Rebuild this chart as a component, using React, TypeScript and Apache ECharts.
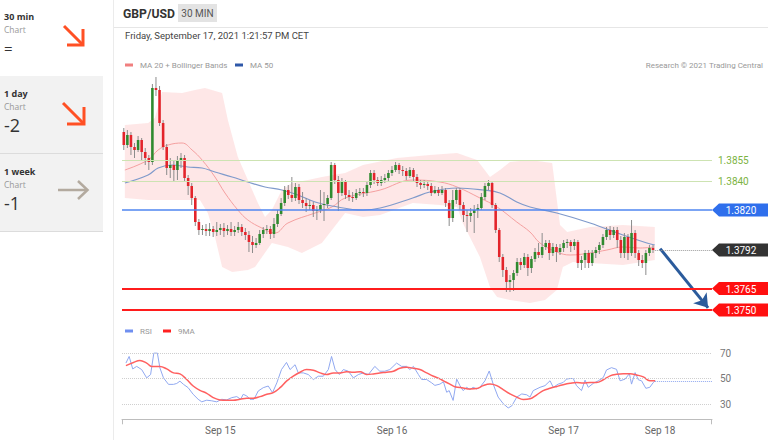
import React, { useEffect, useRef } from "react";
import * as echarts from "echarts";

// ---------- DATA ----------
const firstOpen = 1.38746;
const closes = [
  1.38655,1.38725,1.38641,1.38620,1.38690,1.38606,1.38564,1.38536,1.39054,1.39040,
  1.38809,1.38641,1.38494,1.38515,1.38480,1.38550,1.38564,1.38424,1.38368,1.38284,
  1.38116,1.38060,1.38067,1.38053,1.38067,1.38046,1.38060,1.38074,1.38053,1.38067,
  1.38046,1.38060,1.38081,1.38046,1.38025,1.37976,1.37955,1.37969,1.38032,1.38060,
  1.38067,1.38032,1.38102,1.38172,1.38249,1.38340,1.38305,1.38284,1.38361,1.38270,
  1.38249,1.38228,1.38235,1.38193,1.38200,1.38235,1.38242,1.38284,1.38515,1.38410,
  1.38319,1.38396,1.38305,1.38291,1.38284,1.38319,1.38326,1.38319,1.38375,1.38459,
  1.38410,1.38389,1.38410,1.38424,1.38459,1.38480,1.38515,1.38480,1.38473,1.38438,
  1.38480,1.38431,1.38389,1.38375,1.38382,1.38368,1.38319,1.38340,1.38319,1.38340,
  1.38249,1.38144,1.38270,1.38340,1.38235,1.38165,1.38158,1.38179,1.38200,1.38214,
  1.38291,1.38368,1.38389,1.38235,1.38060,1.37871,1.37780,1.37696,1.37710,1.37759,
  1.37836,1.37815,1.37871,1.37794,1.37857,1.37906,1.37885,1.37941,1.37969,1.37899,
  1.37941,1.37906,1.37934,1.37969,1.37976,1.37948,1.37976,1.37829,1.37850,1.37899,
  1.37829,1.37899,1.37920,1.37955,1.38011,1.38060,1.38025,1.38060,1.37990,1.37899,
  1.38011,1.37899,1.38039,1.37899,1.37850,1.37829,1.37899,1.37934,1.37920,
];
const highs = [
  1.38774,1.38760,1.38746,1.38669,1.38718,1.38704,1.38634,1.38585,1.39082,1.39131,
  1.39068,1.38830,1.38662,1.38564,1.38550,1.38578,1.38599,1.38585,1.38445,1.38389,
  1.38298,1.38137,1.38095,1.38102,1.38109,1.38088,1.38116,1.38102,1.38109,1.38095,
  1.38116,1.38088,1.38116,1.38102,1.38074,1.38053,1.38018,1.38004,1.38060,1.38081,
  1.38095,1.38088,1.38144,1.38200,1.38284,1.38368,1.38375,1.38431,1.38389,1.38382,
  1.38326,1.38284,1.38270,1.38256,1.38228,1.38340,1.38326,1.38305,1.38536,1.38529,
  1.38438,1.38424,1.38410,1.38340,1.38326,1.38347,1.38354,1.38354,1.38403,1.38480,
  1.38480,1.38431,1.38438,1.38452,1.38480,1.38508,1.38536,1.38529,1.38508,1.38494,
  1.38501,1.38494,1.38452,1.38410,1.38410,1.38403,1.38389,1.38368,1.38361,1.38368,
  1.38354,1.38270,1.38340,1.38354,1.38354,1.38256,1.38200,1.38214,1.38235,1.38242,
  1.38319,1.38389,1.38410,1.38403,1.38249,1.38074,1.37892,1.37801,1.37745,1.37780,
  1.37864,1.37864,1.37899,1.37892,1.37878,1.37934,1.37969,1.38039,1.37990,1.37990,
  1.37969,1.37962,1.37962,1.37990,1.37997,1.37990,1.37997,1.37990,1.37878,1.37920,
  1.37920,1.37920,1.37941,1.37976,1.38032,1.38081,1.38088,1.38081,1.38081,1.38018,
  1.38039,1.38032,1.38130,1.38060,1.37920,1.37885,1.37920,1.37955,1.37955,
];
const lows = [
  1.38620,1.38634,1.38585,1.38564,1.38606,1.38550,1.38515,1.38480,1.38515,1.38998,
  1.38788,1.38620,1.38445,1.38424,1.38396,1.38410,1.38494,1.38396,1.38305,1.38235,
  1.38088,1.38025,1.38025,1.38018,1.38018,1.38011,1.38018,1.38025,1.38011,1.38025,
  1.38018,1.38018,1.38039,1.38018,1.37990,1.37906,1.37899,1.37934,1.37955,1.38004,
  1.38032,1.37997,1.38004,1.38081,1.38158,1.38228,1.38277,1.38256,1.38263,1.38242,
  1.38214,1.38186,1.38200,1.38151,1.38130,1.38179,1.38123,1.38214,1.38270,1.38382,
  1.38193,1.38298,1.38277,1.38263,1.38256,1.38270,1.38298,1.38291,1.38298,1.38354,
  1.38382,1.38368,1.38368,1.38389,1.38396,1.38438,1.38466,1.38452,1.38438,1.38410,
  1.38424,1.38403,1.38361,1.38347,1.38354,1.38340,1.38298,1.38312,1.38298,1.38305,
  1.38221,1.38088,1.38116,1.38242,1.38200,1.38116,1.38046,1.38116,1.38039,1.38144,
  1.38200,1.38270,1.38340,1.38214,1.38039,1.37836,1.37731,1.37626,1.37626,1.37633,
  1.37738,1.37780,1.37794,1.37738,1.37759,1.37836,1.37864,1.37864,1.37920,1.37850,
  1.37878,1.37836,1.37885,1.37906,1.37934,1.37906,1.37920,1.37794,1.37780,1.37794,
  1.37794,1.37808,1.37864,1.37892,1.37934,1.37990,1.37990,1.38004,1.37934,1.37864,
  1.37864,1.37850,1.37878,1.37864,1.37808,1.37794,1.37745,1.37878,1.37899,
];

// indicator readings: [candle position, value]
const ma20 = [
  [0.3,1.3848],[6.8,1.38550],[9.6,1.3862],[12.4,1.38655],[16.3,1.38669],[19.1,1.3862],[21.9,1.3855],
  [25.5,1.38431],[28.3,1.38319],[31.9,1.382],[34.7,1.3813],[38.6,1.38074],[42.3,1.38039],[45.9,1.38109],
  [53.5,1.38179],[58.2,1.38221],[61.9,1.38284],[71.7,1.3834],[80.8,1.3841],[88.4,1.38396],[93.2,1.38361],
  [99.6,1.38284],[104.4,1.38221],[109.9,1.38116],[113.6,1.38046],[116.4,1.37969],[121.1,1.37906],
  [124.8,1.37885],[130.4,1.37899],[135.1,1.3792],[139.6,1.37941],[144.4,1.37934],[148.5,1.37941],
];
const ma50 = [
  [0.3,1.38389],[6.8,1.38445],[9.6,1.38494],[13.5,1.38515],[17.9,1.38501],[21.9,1.38494],[25.5,1.38466],
  [30.3,1.38431],[34.7,1.38396],[39.5,1.38361],[44.2,1.3834],[48.7,1.38305],[53.5,1.38256],[58.2,1.38228],
  [66.9,1.382],[71.7,1.38214],[80.8,1.38284],[85.6,1.38326],[93.2,1.38354],[100.5,1.3834],[105.2,1.38319],
  [109.9,1.38256],[113.6,1.38221],[121.1,1.38179],[130.4,1.38109],[139.6,1.38025],[146.3,1.37969],[148.5,1.37955],
];
const bbUpper = [
  [0.3,1.38795],[6.8,1.38809],[8.7,1.38844],[10.7,1.39026],[16.3,1.39019],[19.9,1.3904],[22.7,1.39054],
  [27.5,1.39019],[29.1,1.3883],[31.9,1.38571],[34.7,1.3841],[37.5,1.38249],[39.5,1.38151],[41.4,1.382],
  [44.2,1.3834],[47.0,1.38389],[51.5,1.3841],[55.4,1.38431],[61.9,1.38459],[66.9,1.38515],[76.4,1.38564],
  [85.6,1.38585],[93.2,1.38599],[98.8,1.3855],[102.4,1.38431],[105.2,1.3848],[108.0,1.38536],[113.6,1.3855],
  [119.8,1.38529],[122.0,1.38095],[124.0,1.38046],[130.4,1.38081],[139.6,1.38095],[148.5,1.38081],
];
const bbLower = [
  [0.3,1.38284],[6.8,1.3827],[12.9,1.3827],[21.3,1.3827],[23.5,1.38179],[25.5,1.38011],[27.5,1.37801],
  [30.3,1.37766],[34.7,1.3778],[36.7,1.37801],[41.4,1.37969],[45.9,1.37941],[49.8,1.37899],[55.4,1.37969],
  [61.9,1.38179],[66.9,1.38151],[71.7,1.38165],[80.8,1.38249],[88.4,1.38235],[93.2,1.38221],[94.8,1.38109],
  [99.6,1.37871],[102.4,1.37661],[104.4,1.37591],[108.0,1.3757],[113.6,1.37549],[117.8,1.3757],
  [121.1,1.3764],[122.8,1.37801],[125.6,1.37836],[130.4,1.37829],[139.6,1.37815],[148.5,1.3785],
];
const rsi = [
  [0.6,62.1],[1.5,67.3],[2.5,57.5],[3.6,59.5],[5.0,57.0],[6.4,50.5],[7.5,53.1],[8.4,69.9],[9.4,69.9],[10.1,58.3],
  [11.1,50.5],[12.5,45.4],[13.9,45.4],[14.8,46.1],[15.7,47.9],[16.7,45.4],[18.0,42.8],[19.4,37.6],[20.8,33.7],
  [21.8,31.7],[23.2,33.0],[24.6,32.5],[26.0,31.7],[27.4,33.7],[28.8,33.2],[30.2,35.0],[31.6,35.8],[32.7,33.7],
  [33.4,37.6],[34.4,36.3],[35.3,33.7],[36.4,33.7],[37.6,40.2],[39.0,42.8],[40.4,44.1],[41.6,38.9],[42.8,46.6],
  [44.1,57.0],[45.5,62.6],[46.5,57.0],[47.9,60.8],[48.8,54.4],[50.2,54.4],[51.6,53.1],[53.0,49.2],[54.4,51.8],
  [55.8,51.8],[57.2,57.0],[58.1,67.3],[59.1,57.0],[60.3,53.1],[61.4,57.0],[62.8,55.7],[64.2,50.5],[65.6,53.1],
  [67.0,54.4],[68.4,53.1],[70.2,59.5],[71.6,55.7],[73.0,55.7],[74.4,57.0],[76.3,62.1],[77.7,59.5],[79.1,59.5],
  [80.0,57.0],[81.0,59.5],[82.4,53.1],[83.3,49.2],[84.7,49.2],[86.1,46.6],[87.0,44.6],[88.4,45.6],[89.4,47.4],
  [90.3,39.2],[91.0,40.5],[92.1,32.8],[93.1,49.5],[94.0,44.4],[94.9,40.5],[95.9,43.1],[96.8,41.3],[97.7,43.1],
  [98.7,41.8],[99.6,43.1],[101.0,48.2],[102.2,55.9],[103.3,45.6],[104.7,35.4],[106.1,30.3],[107.5,26.9],
  [108.5,28.5],[109.9,35.4],[111.3,37.9],[112.7,37.2],[113.6,35.4],[114.5,40.5],[116.4,43.1],[117.8,44.4],
  [119.2,48.2],[120.1,43.1],[121.5,45.6],[122.9,46.9],[123.8,49.5],[124.8,50.0],[125.7,50.0],[126.6,44.4],
  [128.0,40.5],[129.0,48.7],[129.9,43.1],[131.3,46.2],[132.7,48.2],[134.1,50.8],[135.0,56.7],[136.4,58.5],
  [137.8,57.2],[138.8,48.2],[140.2,49.5],[141.4,53.8],[142.0,45.6],[143.0,54.6],[143.9,49.0],[144.8,48.2],
  [146.0,42.3],[147.1,43.1],[148.1,46.9],[148.6,48.2],
];
const rsiMa = [
  [0.6,60.1],[2.7,62.6],[4.5,64.2],[6.4,62.1],[7.8,59.5],[10.1,59.5],[12.0,57.5],[13.9,54.4],[15.7,53.6],
  [17.6,49.2],[19.4,44.1],[21.3,40.7],[23.2,38.4],[25.0,35.0],[26.9,33.2],[28.8,33.0],[30.6,33.0],[32.5,33.7],
  [34.4,34.5],[36.2,34.5],[38.1,35.8],[40.0,37.6],[41.8,38.9],[43.7,42.8],[45.5,47.9],[47.4,51.8],[49.3,54.9],
  [51.1,57.0],[53.0,56.5],[54.9,54.4],[56.7,53.1],[58.6,54.4],[60.5,54.4],[62.3,55.2],[64.2,54.9],[66.1,55.2],
  [67.9,53.1],[69.8,53.6],[71.6,54.4],[73.5,54.9],[75.4,55.7],[77.2,58.0],[79.1,58.8],[81.0,58.0],[82.8,57.0],
  [84.7,54.4],[86.6,51.8],[88.4,49.7],[89.4,48.2],[91.2,45.6],[92.6,43.6],[94.9,42.6],[96.8,41.8],[98.7,42.1],
  [100.5,44.4],[102.4,45.6],[104.3,44.4],[106.1,41.3],[108.0,37.9],[109.9,35.4],[111.7,33.6],[113.6,34.1],
  [115.5,37.2],[117.3,40.5],[119.2,42.3],[121.1,43.8],[122.9,45.1],[124.8,46.2],[126.6,46.9],[128.5,46.4],
  [130.4,46.9],[132.2,46.9],[134.1,49.0],[136.0,52.1],[137.8,53.3],[139.7,53.8],[141.6,53.8],[143.4,52.8],
  [145.3,51.3],[147.1,48.2],[148.6,48.2],
];

const slotCount = 165;
const dayTicks: [number, string][] = [[27, "Sep 15"], [75, "Sep 16"], [123, "Sep 17"], [150, "Sep 18"]];
const greenLevels = [1.3855, 1.384];
const blueLevels = [1.382];
const redLevels = [1.3765, 1.375];
const lastPrice = 1.3792;
const rsiLevels = [70, 50, 30];
const arrowFrom = [150, 1.3793];
const arrowTo = [163.4, 1.37515];
const scoreCards = [
  { period: "30 min", score: "=" },
  { period: "1 day", score: "-2" },
  { period: "1 week", score: "-1" },
];
const dateText = "Friday, September 17, 2021 1:21:57 PM CET";

const FONT = "Roboto, 'Noto Sans', sans-serif";
const SIDE_FONT = "'Open Sans', Lato, sans-serif";

export default function App() {
  const ref = useRef<HTMLDivElement>(null);
  useEffect(() => {
    if (!ref.current) return;
    const chart = echarts.init(ref.current, undefined, { renderer: "svg" });
    const categories = Array.from({ length: slotCount }, (_, i) => {
      const t = dayTicks.find((d) => d[0] === i);
      return t ? t[1] : "";
    });
    const candleData = closes.map((c, i) => [i, i === 0 ? firstOpen : closes[i - 1], c, lows[i], highs[i]]);
    const lastRsi = rsi[rsi.length - 1];
    const lastIdx = closes.length - 1;

    const option: any = {
      animation: false,
      textStyle: { fontFamily: FONT },
      grid: [
        { left: 122, width: 590, top: 71.43, height: 250 },
        { left: 122, width: 590, top: 337.7, height: 81.6 },
      ],
      xAxis: [
        { type: "category", gridIndex: 0, data: categories, show: false, boundaryGap: true },
        { type: "value", gridIndex: 0, min: -0.5, max: slotCount - 0.5, show: false },
        {
          type: "category", gridIndex: 1, data: categories, boundaryGap: true,
          axisLine: { lineStyle: { color: "#bdbdbd", width: 1 } },
          axisTick: { show: false },
          axisLabel: { interval: 0, color: "#666", fontSize: 10, margin: 6, fontFamily: FONT },
          splitLine: { show: false },
        },
        { type: "value", gridIndex: 1, min: -0.5, max: slotCount - 0.5, show: false },
      ],
      yAxis: [
        { type: "value", gridIndex: 0, min: 1.3742, max: 1.3917, show: false },
        { type: "value", gridIndex: 1, min: 18, max: 82, show: false },
      ],
      series: [
        {
          type: "custom", name: "bands", xAxisIndex: 1, yAxisIndex: 0, z: 1, silent: true, clip: false,
          data: [[bbUpper[0][0], bbUpper[0][1]]], encode: { x: 0, y: 1 },
          renderItem: (_p: any, api: any) => {
            const pts = bbUpper.map((d) => api.coord(d)).concat(bbLower.slice().reverse().map((d) => api.coord(d)));
            return { type: "polygon", shape: { points: pts }, style: { fill: "rgba(252,110,110,0.17)", stroke: "none" } };
          },
        },
        {
          type: "line", name: "MA 20", xAxisIndex: 1, yAxisIndex: 0, data: ma20, showSymbol: false, smooth: 0.4, z: 2,
          lineStyle: { color: "#f5a0a0", width: 1 }, silent: true,
          markLine: {
            silent: true, precision: 6, symbol: ["none", "arrow"], symbolSize: 13, label: { show: false },
            lineStyle: { color: "#2b5b9c", width: 3, type: "solid" },
            data: [[{ coord: arrowFrom }, { coord: arrowTo }]],
          },
        },
        {
          type: "line", name: "MA 50", xAxisIndex: 1, yAxisIndex: 0, data: ma50, showSymbol: false, smooth: 0.4, z: 3,
          lineStyle: { color: "#7f9acb", width: 1.2 }, silent: true,
          markLine: {
            silent: true, precision: 6, symbol: ["none", "none"], label: { show: false },
            data: [
              ...greenLevels.map((p) => ({ yAxis: p, lineStyle: { color: "#cde3b2", width: 1, type: "solid" } })),
              ...blueLevels.map((p) => ({ yAxis: p, lineStyle: { color: "#4f86f0", width: 1.5, type: "solid" } })),
              ...redLevels.map((p) => ({ yAxis: p, lineStyle: { color: "#ff1c1c", width: 2, type: "solid" } })),
              [
                { coord: [lastIdx + 0.5, lastPrice], lineStyle: { color: "#9a9a9a", width: 1, type: "dotted" } },
                { coord: [slotCount - 0.5, lastPrice] },
              ],
            ],
          },
        },
        {
          type: "custom", name: "GBP/USD", xAxisIndex: 0, yAxisIndex: 0, z: 4, silent: true,
          data: candleData, encode: { x: 0, y: [1, 2, 3, 4] },
          renderItem: (_p: any, api: any) => {
            const i = api.value(0);
            const o = api.value(1), c = api.value(2), l = api.value(3), h = api.value(4);
            const pO = api.coord([i, o]);
            const pC = api.coord([i, c]);
            const pL = api.coord([i, l]);
            const pH = api.coord([i, h]);
            const w = api.size([1, 0])[0] * 0.72;
            const top = Math.min(pO[1], pC[1]);
            const hh = Math.max(1, Math.abs(pO[1] - pC[1]));
            return {
              type: "group",
              children: [
                { type: "line", shape: { x1: pH[0], y1: pH[1], x2: pL[0], y2: pL[1] }, style: { stroke: "#8c8c8c", lineWidth: 1 } },
                { type: "rect", shape: { x: pO[0] - w / 2, y: top, width: w, height: hh }, style: { fill: c >= o ? "#2f8a2f" : "#e3242b" } },
              ],
            };
          },
        },
        {
          type: "line", name: "RSI", xAxisIndex: 3, yAxisIndex: 1, data: rsi, showSymbol: false, z: 3,
          lineStyle: { color: "#90a8f0", width: 1 }, silent: true,
          markLine: {
            silent: true, precision: 4, symbol: ["none", "none"],
            label: { show: true, position: "end", distance: 8, color: "#777", fontSize: 10, fontFamily: FONT, formatter: (p: any) => String(p.value) },
            lineStyle: { color: "#cfcfcf", width: 1, type: "dotted" },
            data: [
              ...rsiLevels.map((v) => ({ yAxis: v })),
              [
                { coord: [lastRsi[0], lastRsi[1]], label: { show: false }, lineStyle: { color: "#90a8f0", width: 1, type: "dotted" } },
                { coord: [slotCount - 0.5, lastRsi[1]] },
              ],
            ],
          },
        },
        {
          type: "line", name: "9MA", xAxisIndex: 3, yAxisIndex: 1, data: rsiMa, showSymbol: false, smooth: 0.4, z: 4,
          lineStyle: { color: "#ff6060", width: 1.5 }, silent: true,
        },
      ],
    };
    chart.setOption(option);

    const yOf = (p: number) => chart.convertToPixel({ yAxisIndex: 0 } as any, p) as number;
    const xRight = chart.convertToPixel({ xAxisIndex: 3 } as any, slotCount - 0.5) as number;
    const xLeft = chart.convertToPixel({ xAxisIndex: 3 } as any, -0.5) as number;
    const rsiBase = chart.convertToPixel({ yAxisIndex: 1 } as any, 18) as number;

    const g: any[] = [];
    const txt = (x: number, y: number, text: string, size: number, weight: string, family: string, fill: string, align = "left") => ({
      type: "text", x, y, silent: true,
      style: {
        text, fill, textAlign: align, textVerticalAlign: "middle",
        fontSize: size, fontWeight: weight, fontFamily: family, lineHeight: Math.round(size * 0.95),
      },
    });

    // sidebar
    g.push({ type: "rect", shape: { x: 0, y: 76, width: 103, height: 77 }, style: { fill: "#f2f2f2" } });
    g.push({ type: "rect", shape: { x: 0, y: 154, width: 103, height: 77 }, style: { fill: "#f2f2f2" } });
    g.push({ type: "line", shape: { x1: 0, y1: 153.5, x2: 103, y2: 153.5 }, style: { stroke: "#dcdcdc", lineWidth: 1 } });
    g.push({ type: "line", shape: { x1: 0, y1: 231.5, x2: 103, y2: 231.5 }, style: { stroke: "#dcdcdc", lineWidth: 1 } });
    g.push({ type: "line", shape: { x1: 113.5, y1: 0, x2: 113.5, y2: 440 }, style: { stroke: "#ebebeb", lineWidth: 1 } });
    const cardTops = [0, 77, 155];
    scoreCards.forEach((s, k) => {
      const t = cardTops[k];
      g.push(txt(4, t + 16.5, s.period, 9, "bold", SIDE_FONT, "#333"));
      g.push(txt(4, t + 29, "Chart", 8.5, "normal", SIDE_FONT, "#999"));
      g.push(txt(4, t + 47.5, s.score, k === 0 ? 15 : 18, "normal", SIDE_FONT, "#333"));
    });
    const orange = "#ff5024";
    g.push({ type: "polyline", shape: { points: [[64, 26], [83, 45]] }, style: { stroke: orange, lineWidth: 3, fill: "none" } });
    g.push({ type: "polyline", shape: { points: [[67, 45], [83, 45], [83, 29]] }, style: { stroke: orange, lineWidth: 3, fill: "none" } });
    g.push({ type: "polyline", shape: { points: [[63, 103], [84, 124]] }, style: { stroke: orange, lineWidth: 3, fill: "none" } });
    g.push({ type: "polyline", shape: { points: [[67, 124], [84, 124], [84, 107]] }, style: { stroke: orange, lineWidth: 3, fill: "none" } });
    g.push({ type: "polyline", shape: { points: [[58, 190], [87, 190]] }, style: { stroke: "#b3aa9f", lineWidth: 2.5, fill: "none" } });
    g.push({ type: "polyline", shape: { points: [[78, 181], [87.5, 190], [78, 199]] }, style: { stroke: "#b3aa9f", lineWidth: 2.5, fill: "none" } });

    // header
    g.push({ type: "line", shape: { x1: 114, y1: 27.5, x2: 768, y2: 27.5 }, style: { stroke: "#e6e6e6", lineWidth: 1 } });
    g.push(txt(123, 13.5, "GBP/USD", 12.2, "bold", FONT, "#333"));
    g.push({ type: "rect", shape: { x: 178, y: 4, width: 39, height: 18 }, style: { fill: "#e3e3e3" } });
    g.push(txt(197.5, 13.5, "30 MIN", 10, "normal", FONT, "#555", "center"));
    g.push(txt(125, 35.5, dateText, 9.5, "normal", FONT, "#444"));

    // legends
    g.push({ type: "rect", shape: { x: 125, y: 63.5, width: 8, height: 3 }, style: { fill: "#f07f7f" } });
    g.push(txt(140, 65, "MA 20 + Bollinger Bands", 8, "normal", FONT, "#999"));
    g.push({ type: "rect", shape: { x: 235, y: 63.5, width: 8, height: 3 }, style: { fill: "#2f58a8" } });
    g.push(txt(250, 65, "MA 50", 8, "normal", FONT, "#999"));
    g.push(txt(763, 65, "Research © 2021 Trading Central", 8, "normal", FONT, "#999", "right"));
    g.push({ type: "rect", shape: { x: 125, y: 329.5, width: 8, height: 3 }, style: { fill: "#6f8ff0" } });
    g.push(txt(140, 331, "RSI", 8, "normal", FONT, "#999"));
    g.push({ type: "rect", shape: { x: 163, y: 329.5, width: 8, height: 3 }, style: { fill: "#ff2020" } });
    g.push(txt(178, 331, "9MA", 8, "normal", FONT, "#999"));

    // RSI axis end ticks
    g.push({ type: "line", shape: { x1: xLeft + 0.5, y1: rsiBase, x2: xLeft + 0.5, y2: rsiBase + 5 }, style: { stroke: "#bdbdbd", lineWidth: 1 } });
    g.push({ type: "line", shape: { x1: xRight - 0.5, y1: rsiBase, x2: xRight - 0.5, y2: rsiBase + 5 }, style: { stroke: "#bdbdbd", lineWidth: 1 } });

    // price tags
    const tag = (p: number, fill: string) => {
      const y = yOf(p);
      g.push({ type: "polygon", shape: { points: [[xRight, y], [xRight + 7, y - 6.5], [768, y - 6.5], [768, y + 6.5], [xRight + 7, y + 6.5]] }, style: { fill } });
      g.push(txt(741, y + 0.5, p.toFixed(4), 10, "normal", FONT, "#fff", "center"));
    };
    greenLevels.forEach((p) => g.push(txt(xRight + 6, yOf(p) + 0.5, p.toFixed(4), 10, "normal", FONT, "#7cb342")));
    blueLevels.forEach((p) => tag(p, "#2f6fec"));
    tag(lastPrice, "#333333");
    redLevels.forEach((p) => tag(p, "#ff1010"));

    chart.setOption({ graphic: g });

    return () => chart.dispose();
  }, []);
  return <div ref={ref} style={{ position: "absolute", left: 0, top: 0, width: 768, height: 440, background: "#fff" }} />;
}
